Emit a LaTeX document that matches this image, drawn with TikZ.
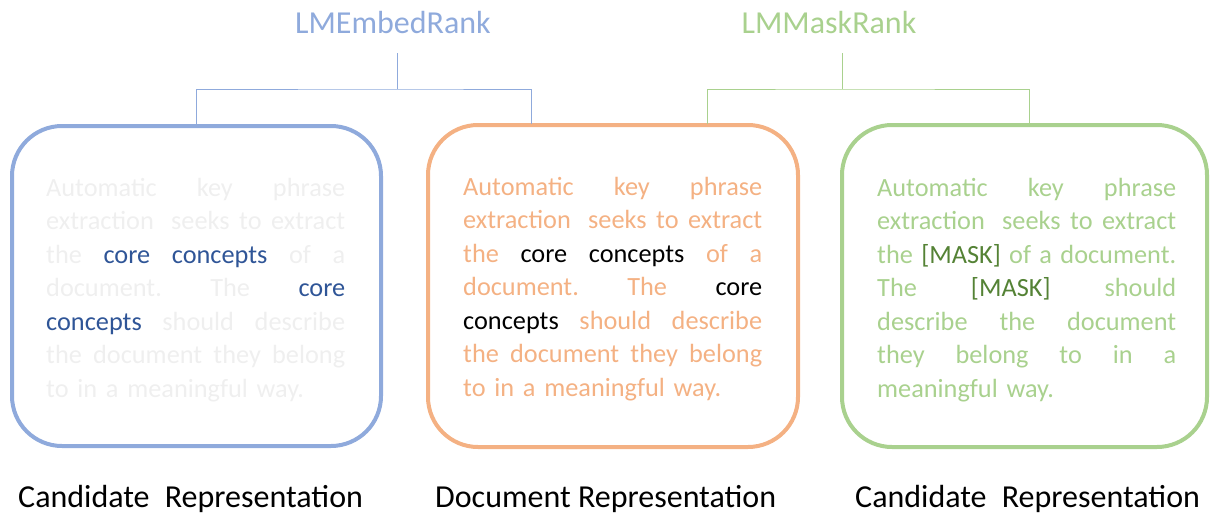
\documentclass[tikz,border=0pt]{standalone}
\usepackage{fontspec}
\setmainfont{Carlito}
\definecolor{blueL}{HTML}{8FAADC}
\definecolor{blueD}{HTML}{2F5597}
\definecolor{orangeL}{HTML}{F4B183}
\definecolor{greenL}{HTML}{A9D18E}
\definecolor{greenD}{HTML}{548235}
\definecolor{faint}{HTML}{EFEFEF}
\newcommand\jline[1]{\leavevmode\hbox to 299pt{\spaceskip=0.23em plus 1fil\relax\xspaceskip=\spaceskip #1}}
\newcommand\nline[1]{\leavevmode\hbox to 299pt{#1\hfil}}
\tikzset{
  card/.style={draw=#1, line width=4pt, rounded corners=50pt, inner sep=0pt},
  body/.style={anchor=base west, inner sep=0pt, text width=299pt,
     font=\fontsize{26.3}{33.5}\selectfont},
  title/.style={anchor=base, inner sep=0pt, font=\fontsize{32}{38}\selectfont},
  label/.style={anchor=base west, inner sep=0pt, font=\fontsize{32}{38}\selectfont, text=black},
  conn/.style={draw=#1, line width=1pt}
}
\begin{document}
\begin{tikzpicture}[x=1pt,y=1pt]
\useasboundingbox (0,0) rectangle (1210,-514);
% titles
\node[title, text=blueL] (t1) at (393,-33) {LMEmbedRank};
\node[title, text=greenL] (t2) at (829,-33) {LMMaskRank};
% boxes
\node[card=blueL, minimum width=369pt, minimum height=320pt] (b1) at (196.5,-286) {};
\node[card=orangeL, minimum width=370pt, minimum height=322pt] (b2) at (613,-286) {};
\node[card=greenL, minimum width=365pt, minimum height=322pt] (b3) at (1024.5,-286) {};
% connectors
\coordinate (et) at (397,-53);
\coordinate (ej) at (397,-89);
\coordinate (eR) at (531,-124);
\coordinate (gt) at (842,-53);
\coordinate (gj) at (842,-89);
\coordinate (gL) at (707,-124);
\coordinate (gR) at (1029,-124);
\draw[conn=blueL] (et) -- (ej);
\draw[conn=blueL] (b1.north) |- (ej) -| (eR);
\draw[conn=greenL] (gt) -- (gj);
\draw[conn=greenL] (gL) |- (gj) -| (gR);
% texts
\node[body, text=faint] (x1) at (46,-196) {%
\jline{Automatic key phrase}\\
\jline{extraction\hspace{0.3em} seeks to extract}\\
\jline{the \textcolor{blueD}{core concepts} of a}\\
\jline{document. The \textcolor{blueD}{core}}\\
\jline{\textcolor{blueD}{concepts} should describe}\\
\jline{the document they belong}\\
\nline{to in a meaningful way.}};
\node[body, text=orangeL] (x2) at (463,-195) {%
\jline{Automatic key phrase}\\
\jline{extraction\hspace{0.3em} seeks to extract}\\
\jline{the \textcolor{black}{core concepts} of a}\\
\jline{document. The \textcolor{black}{core}}\\
\jline{\textcolor{black}{concepts} should describe}\\
\jline{the document they belong}\\
\nline{to in a meaningful way.}};
\node[body, text=greenL] (x3) at (877,-196) {%
\jline{Automatic key phrase}\\
\jline{extraction\hspace{0.3em} seeks to extract}\\
\jline{the \textcolor{greenD}{[MASK]} of a document.}\\
\jline{The \textcolor{greenD}{[MASK]} should}\\
\jline{describe the document}\\
\jline{they belong to in a}\\
\nline{meaningful way.}};
% bottom labels
\node[label] (l1) at (18,-507) {Candidate\hspace{0.25em} Representation};
\node[label] (l2) at (435,-507) {Document Representation};
\node[label] (l3) at (855,-507) {Candidate\hspace{0.25em} Representation};
\end{tikzpicture}
\end{document}
